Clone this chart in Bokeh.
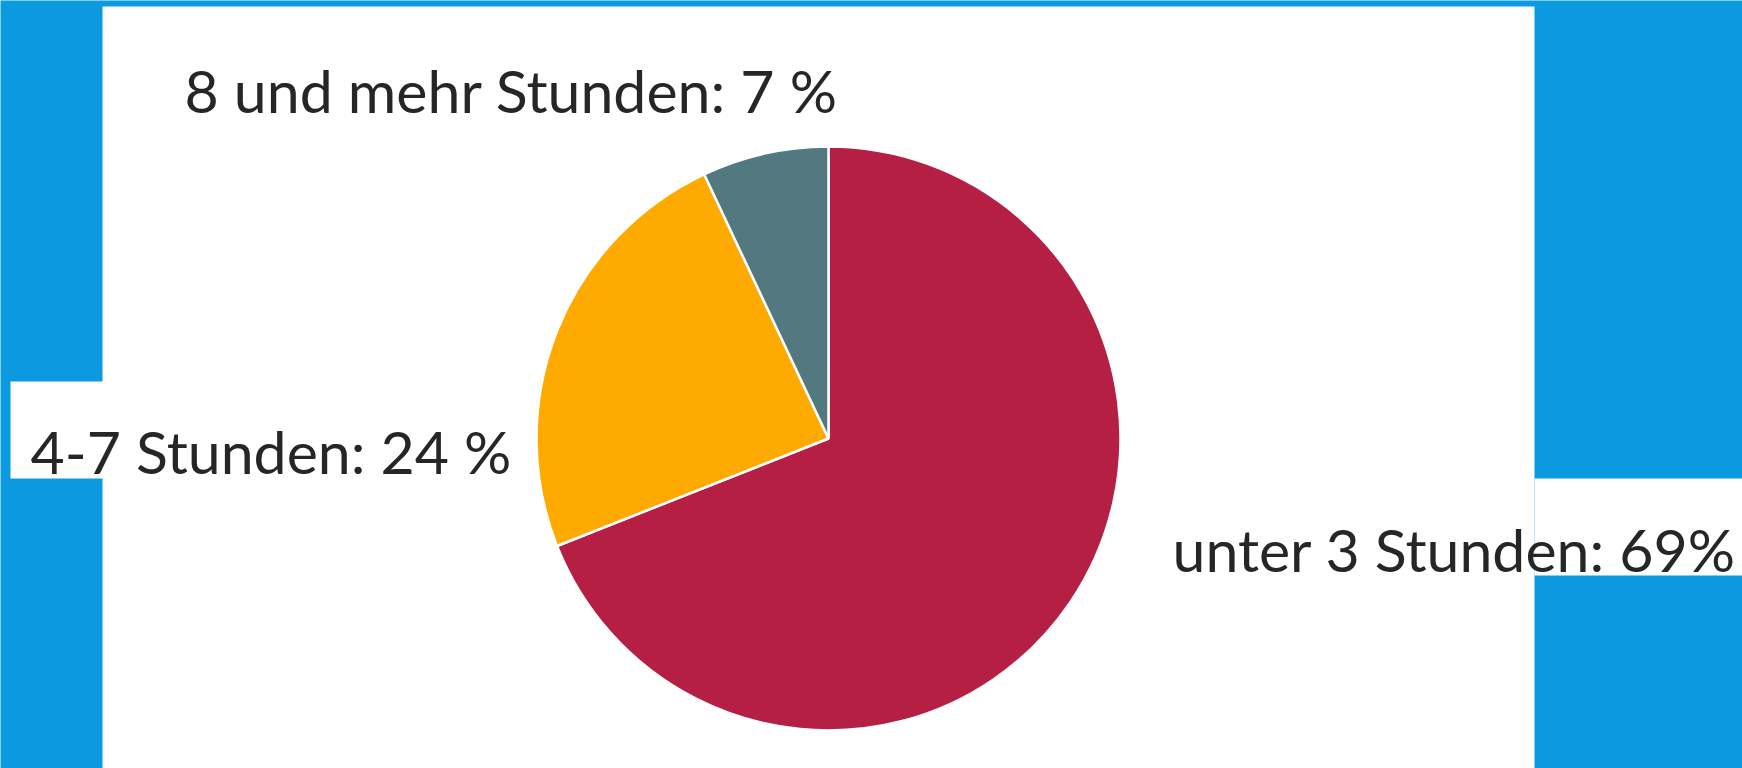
from bokeh.plotting import figure
from bokeh.models import ColumnDataSource, Range1d
from bokeh.core.properties import value
from bokeh.embed import file_html
from bokeh.resources import INLINE
import numpy as np

categories = ["unter 3 Stunden", "4-7 Stunden", "8 und mehr Stunden"]
shares = [69, 24, 7]
labels = ["unter 3 Stunden: 69%", "4-7 Stunden: 24 %", "8 und mehr Stunden: 7 %"]
colors = ["#B51F43", "#FFAA00", "#52797F"]

BLUE = "#0B9ADF"
W, H = 1742, 768

p = figure(width=W, height=H, output_backend="svg", toolbar_location=None,
           x_range=Range1d(0, W), y_range=Range1d(0, H), min_border=0)
p.axis.visible = False
p.grid.visible = False
p.outline_line_color = None
p.background_fill_color = BLUE
p.border_fill_color = BLUE

# white panels (main area + label backgrounds)
p.quad(left=[102, 10, 1534], right=[1534, 110, 1750], top=[762, 387, 290], bottom=[-10, 290, 193],
       fill_color="white", line_color=None)

# pie: start at 12 o'clock, go clockwise
vals = np.array(shares, dtype=float)
frac = vals / vals.sum()
cum = np.concatenate([[0], np.cumsum(frac)])
start = np.pi / 2 - cum[1:] * 2 * np.pi
end = np.pi / 2 - cum[:-1] * 2 * np.pi
src = ColumnDataSource(dict(start=start, end=end, color=colors, cat=categories))
p.wedge(x=828, y=330, radius=292, start_angle="start", end_angle="end",
        fill_color="color", line_color="white", line_width=2.5, source=src)

# labels
p.text(x=[1172, 30, 184], y=[219, 317, 678], text=labels,
       text_font=value("Lato"), text_font_size="59px", text_color="#262626",
       text_baseline="alphabetic", text_align="left")

html = file_html(p, INLINE)
html = html.replace("<body>", '<body style="margin:0;background-color:%s">' % BLUE, 1)
open("out.html", "w").write(html)
